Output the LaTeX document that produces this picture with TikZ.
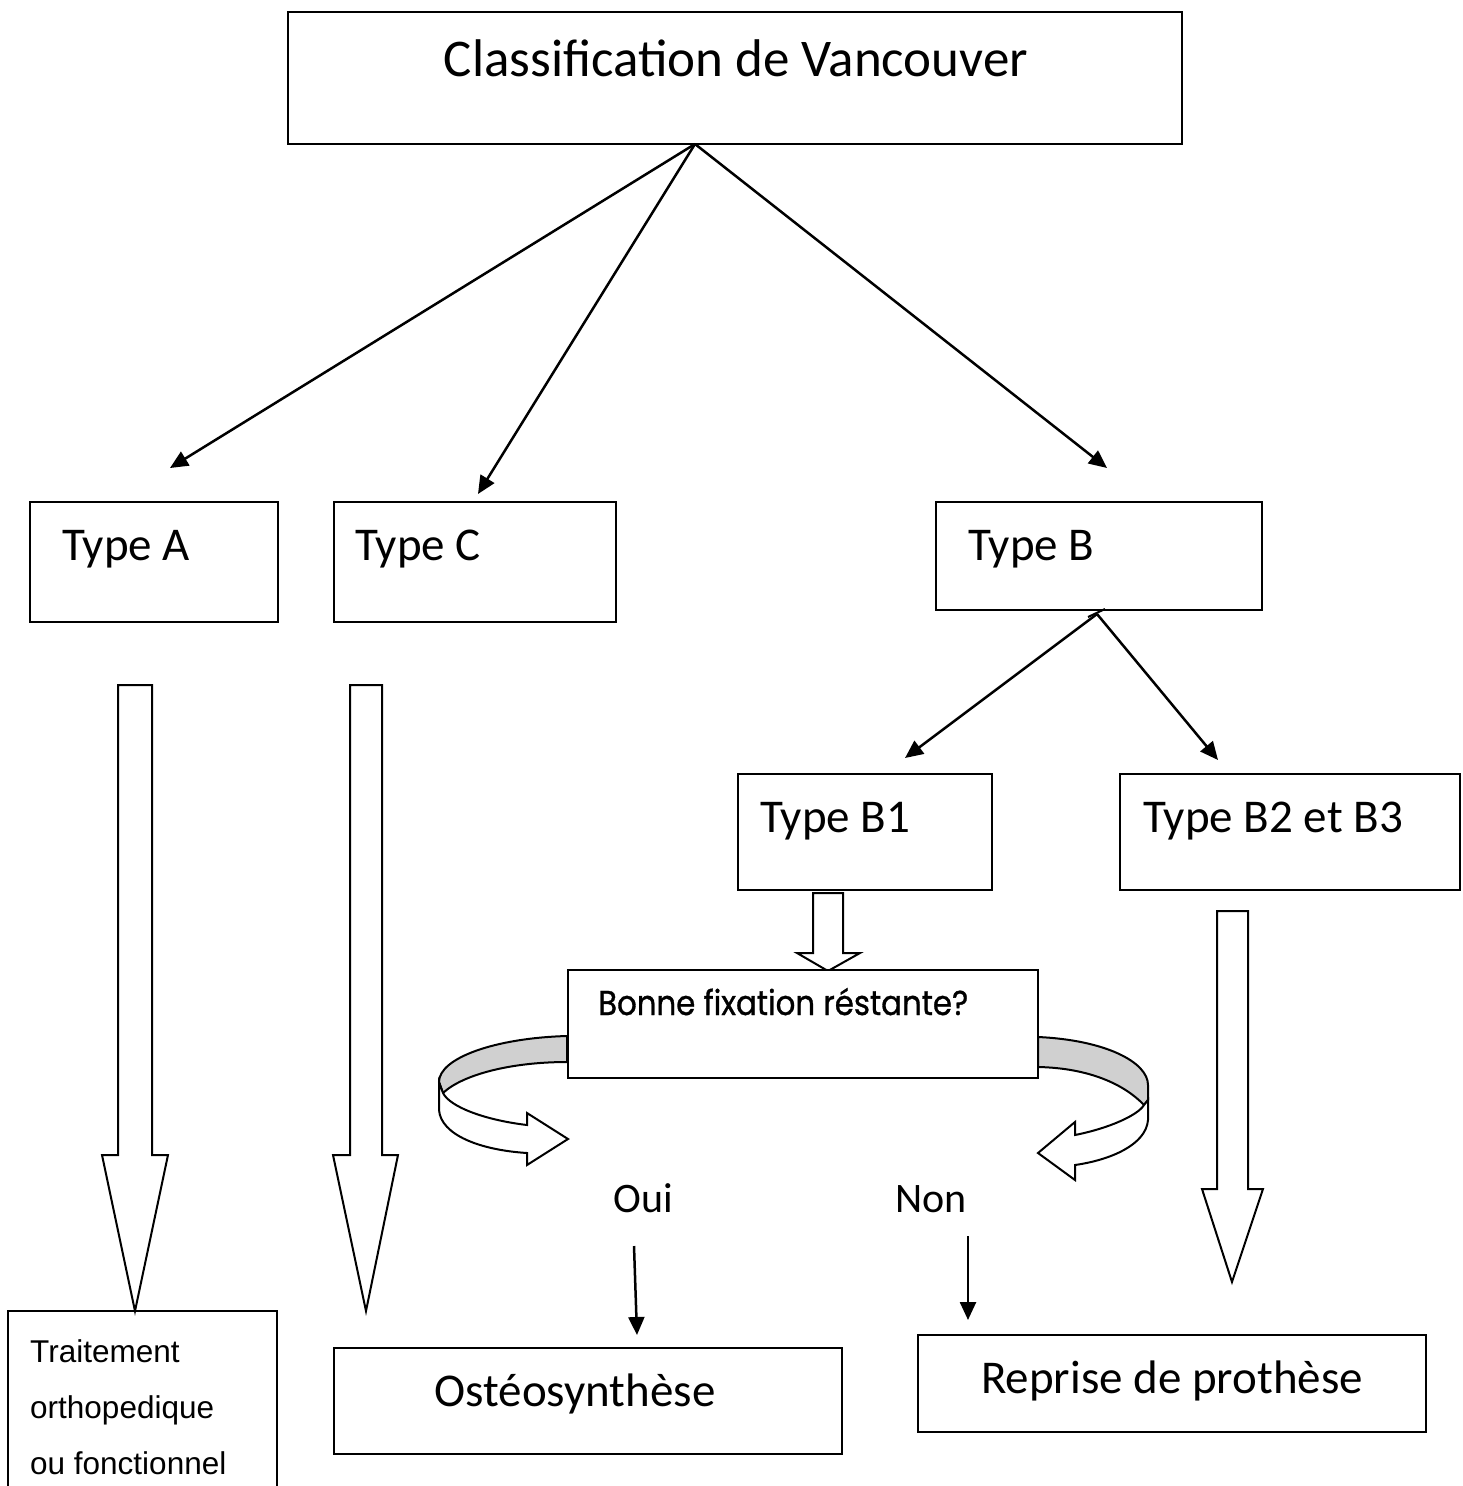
\documentclass[tikz,border=0pt]{standalone}
\usepackage{fontspec}
\usepackage{graphicx}
\setmainfont{Carlito}
\newfontfamily\arialf{Liberation Sans}
\newfontfamily\geof[FakeBold=1]{Poppins}
\usetikzlibrary{arrows.meta}
\definecolor{bandgray}{RGB}{208,208,208}
\begin{document}
\begin{tikzpicture}[x=1pt,y=-1pt,
  box/.style={draw, line width=2pt, inner sep=0pt, outer sep=0pt, fill=white},
  lbl/.style={anchor=base west, inner sep=0pt},
  clbl/.style={anchor=base, inner sep=0pt},
  big/.style={font=\fontsize{47}{56}\selectfont},
  thinarrow/.style={line width=2.5pt, -{Triangle[length=18pt,width=16pt]}},
  blockarrow/.style={draw, line width=2pt, line join=miter, fill=white},
  ribbon/.style={draw, line width=2pt, line join=miter}]
\useasboundingbox (0,0) rectangle (1462,1486);

% boxes
\node[box, minimum width=894pt, minimum height=132pt] (title) at (735,78) {};
\node[box, minimum width=248pt, minimum height=120pt] (typeA) at (154,562) {};
\node[box, minimum width=282pt, minimum height=120pt] (typeC) at (475,562) {};
\node[box, minimum width=326pt, minimum height=108pt] (typeB) at (1099,556) {};
\node[box, minimum width=254pt, minimum height=116pt] (typeB1) at (865,832) {};
\node[box, minimum width=340pt, minimum height=116pt] (typeB2) at (1290,832) {};
\node[box, minimum width=269pt, minimum height=189pt] (trait) at (142.5,1405.5) {};
\node[box, minimum width=508pt, minimum height=106pt] (osteo) at (588,1401) {};
\node[box, minimum width=508pt, minimum height=97pt] (reprise) at (1172,1383.5) {};

% texts
\node[clbl, font=\fontsize{53}{60}\selectfont] (titleT) at (736,76) {Classification de Vancouver};
\node[lbl, big] (typeAT) at (62,560) {Type A};
\node[lbl, big] (typeCT) at (355,560) {Type C};
\node[lbl, big] (typeBT) at (968,560) {Type B};
\node[lbl, big] (typeB1T) at (760,832) {Type B1};
\node[lbl, big] (typeB2T) at (1143,832) {Type B2 et B3};
\node[clbl, big] (osteoT) at (575,1406) {Ostéosynthèse};
\node[clbl, big] (repriseT) at (1172,1393) {Reprise de prothèse};
\node[clbl, font=\fontsize{42}{50}\selectfont] (oui) at (643,1212) {Oui};
\node[clbl, font=\fontsize{42}{50}\selectfont] (non) at (931,1212) {Non};
\node[lbl, font=\arialf\fontsize{31.5}{56}\selectfont] (traitT1) at (30,1362.5) {Traitement};
\node[lbl, font=\arialf\fontsize{31.5}{56}\selectfont] (traitT2) at (30,1418.5) {orthopedique};
\node[lbl, font=\arialf\fontsize{31.5}{56}\selectfont] (traitT3) at (30,1474.5) {ou fonctionnel};

% thin arrows
\coordinate (tsrc) at (695,144);
\coordinate (endA) at (170,468);
\coordinate (endC) at (478,494);
\coordinate (endB) at (1107,468);
\coordinate (bsrc) at (1097,614);
\coordinate (endB1) at (905,758);
\coordinate (endB2) at (1218,760);
\draw[thinarrow] (tsrc) -- (endA);
\draw[thinarrow] (tsrc) -- (endC);
\draw[thinarrow] (tsrc) -- (endB);
\draw[thinarrow] (bsrc) -- (endB1);
\draw[thinarrow] (bsrc) -- (endB2);
\draw[line width=2pt] (1088,617) -- (1105,609);
\coordinate (ouiS) at (634,1246);
\coordinate (ouiE) at (637,1335);
\coordinate (nonS) at (968,1236);
\coordinate (nonE) at (968,1320);
\draw[thinarrow] (ouiS) -- (ouiE);
\draw[thinarrow] (nonS) -- (nonE);

% block arrows
\path[blockarrow] (118,685) -- (152,685) -- (152,1155) -- (168,1155) -- (135,1311) -- (102,1155) -- (118,1155) -- cycle;
\path[blockarrow] (350,685) -- (382,685) -- (382,1155) -- (398,1155) -- (366,1311) -- (333,1155) -- (350,1155) -- cycle;
\path[blockarrow] (813,893) -- (843,893) -- (843,953) -- (860,953) -- (828,971) -- (797,953) -- (813,953) -- cycle;
\path[blockarrow] (1217,911) -- (1248,911) -- (1248,1189) -- (1263,1189) -- (1232,1282) -- (1202,1189) -- (1217,1189) -- cycle;

% curved arrows
\path[ribbon, fill=bandgray] (567,1036) .. controls (495,1038) and (439,1058) .. (439,1082)
  -- (443,1093) .. controls (462,1075) and (510,1062) .. (567,1062) -- cycle;
\path[ribbon, fill=white] (439,1082) -- (439,1110) .. controls (441,1135) and (480,1150) .. (527,1153)
  -- (527,1165) -- (568,1139) -- (527,1113) -- (527,1125)
  .. controls (485,1120) and (450,1107) .. (443,1093) -- cycle;
\path[ribbon, fill=bandgray] (1038,1037) .. controls (1105,1040) and (1148,1062) .. (1148,1085)
  -- (1148,1100) -- (1144,1105) .. controls (1125,1085) and (1090,1068) .. (1038,1067) -- cycle;
\path[ribbon, fill=white] (1148,1100) -- (1148,1120) .. controls (1146,1145) and (1110,1160) .. (1075,1165)
  -- (1075,1180) -- (1038,1153) -- (1075,1122) -- (1075,1135)
  .. controls (1110,1128) and (1138,1115) .. (1144,1105) -- cycle;

\node[box, minimum width=470pt, minimum height=108pt] (bonne) at (803,1024) {};
\node[lbl] (bonneT) at (598,1015) {\resizebox{370pt}{27pt}{\geof Bonne fixation réstante?}};
\end{tikzpicture}
\end{document}
